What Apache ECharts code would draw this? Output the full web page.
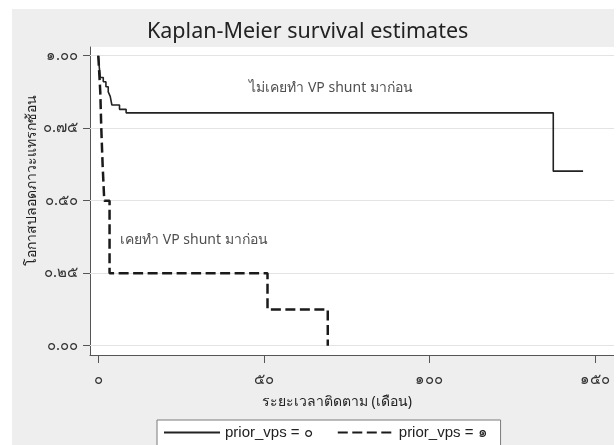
<!DOCTYPE html>
<html>
<head>
<meta charset="utf-8">
<script src="https://cdn.jsdelivr.net/npm/echarts@6/dist/echarts.min.js"></script>
<style>
  html, body { margin: 0; padding: 0; background: #ffffff; }
  #chart { position: absolute; left: 12px; top: 9px; width: 602px; height: 436px; }
</style>
</head>
<body>
<div id="chart"></div>
<script>
// --- chart data ---
const timesNoShunt = [0, 0.3, 0.6, 1.5, 2.3, 3.0, 3.6, 4.1, 6.4, 8.4, 137.4, 146.4];
const survNoShunt  = [1, 0.96, 0.925, 0.91, 0.893, 0.875, 0.86, 0.83, 0.815, 0.803, 0.602, 0.602];

const timesShunt = [0, 0.6, 0.9, 1.3, 1.8, 3.4, 51.1, 69.3];
const survShunt  = [1, 0.875, 0.75, 0.625, 0.5, 0.25, 0.125, 0];

const seriesNames = ['prior_vps = ๐', 'prior_vps = ๑'];

const xTicks = [0, 50, 100, 150];
const xTickLabels = ['๐', '๕๐', '๑๐๐', '๑๕๐'];
const yTicks = [0, 0.25, 0.5, 0.75, 1];
const yTickLabels = ['๐.๐๐', '๐.๒๕', '๐.๕๐', '๐.๗๕', '๑.๐๐'];

const noteNames = ['ไม่เคยทำ VP shunt มาก่อน', 'เคยทำ VP shunt มาก่อน'];
const notePoints = [[70.3, 0.888], [6.6, 0.363]];

const chart = echarts.init(document.getElementById('chart'));

const zip = (xs, ys) => xs.map((x, i) => [x, ys[i]]);
const labelFor = (ticks, labels) => v => {
    const i = ticks.findIndex(t => Math.abs(t - v) < 1e-6);
    return i >= 0 ? labels[i] : '';
};

const thaiFont = '"Noto Sans", "DejaVu Sans", sans-serif';
const axisColor = '#555555';

const option = {
    backgroundColor: '#eeeeee',
    animation: false,
    title: {
        text: 'Kaplan-Meier survival estimates',
        left: 130,
        top: 7,
        padding: 5,
        textStyle: { fontSize: 21.5, fontWeight: 'normal', color: '#222222', fontFamily: thaiFont }
    },
    grid: {
        left: 78, right: 0, top: 38, bottom: 90,
        containLabel: false,
        outerBoundsMode: 'none',
        show: true, backgroundColor: '#ffffff', borderWidth: 0
    },
    xAxis: {
        type: 'value',
        min: -2.507, max: 155.74,
        name: 'ระยะเวลาติดตาม (เดือน)',
        nameLocation: 'middle',
        nameGap: 40,
        nameMoveOverlap: false,
        nameTextStyle: { fontSize: 14, color: '#222222', fontFamily: thaiFont, padding: [0, 30, 0, 0] },
        axisLine: { show: true, onZero: false, lineStyle: { color: axisColor, width: 1 } },
        axisTick: { show: true, length: 8, customValues: xTicks, lineStyle: { color: axisColor } },
        axisLabel: {
            customValues: xTicks, margin: 17, fontSize: 15, color: '#333333',
            fontFamily: thaiFont, formatter: labelFor(xTicks, xTickLabels)
        },
        splitLine: { show: false }
    },
    yAxis: {
        type: 'value',
        min: -0.032, max: 1.030,
        name: 'โอกาสปลอดภาวะแทรกซ้อน',
        nameLocation: 'middle',
        nameGap: 51,
        nameMoveOverlap: false,
        nameTextStyle: { fontSize: 14, color: '#222222', fontFamily: thaiFont, padding: [0, 0, 0, 42] },
        axisLine: { show: true, onZero: false, lineStyle: { color: axisColor, width: 1 } },
        axisTick: { show: true, length: 7, customValues: yTicks, lineStyle: { color: axisColor } },
        axisLabel: {
            customValues: yTicks, margin: 12, fontSize: 15, color: '#333333',
            fontFamily: thaiFont, formatter: labelFor(yTicks, yTickLabels)
        },
        splitLine: { show: false }
    },
    legend: {
        data: seriesNames,
        left: 145,
        top: 411,
        orient: 'horizontal',
        backgroundColor: '#ffffff',
        borderColor: '#7a7a7a',
        borderWidth: 1,
        padding: [5, 13, 30, 6],
        itemWidth: 56,
        itemHeight: 16,
        itemGap: 24,
        itemTextGap: 8,
        itemStyle: { opacity: 0 },
        textStyle: { fontSize: 15, color: '#222222', fontFamily: '"Liberation Sans", "Noto Sans", sans-serif' }
    },
    series: [
        {
            name: seriesNames[0],
            type: 'line',
            step: 'end',
            symbol: 'none',
            z: 3,
            data: zip(timesNoShunt, survNoShunt),
            lineStyle: { color: '#222222', width: 1.6 },
            itemStyle: { color: '#222222' }
        },
        {
            name: seriesNames[1],
            type: 'line',
            step: 'end',
            symbol: 'none',
            z: 3,
            data: zip(timesShunt, survShunt),
            lineStyle: { color: '#1a1a1a', width: 2.5, type: [10, 4.5] },
            itemStyle: { color: '#1a1a1a' }
        },
        {
            // horizontal grid lines at the y ticks
            name: 'grid',
            type: 'line',
            data: [],
            z: 1,
            markLine: {
                silent: true,
                z: 1,
                symbol: ['none', 'none'],
                label: { show: false },
                lineStyle: { color: '#e3e3e3', width: 1, type: 'solid' },
                data: yTicks.map(v => ({ yAxis: v }))
            }
        },
        {
            // text notes inside the plot
            name: 'notes',
            type: 'scatter',
            symbolSize: 0,
            z: 4,
            data: [
                { name: noteNames[0], value: notePoints[0], label: { position: 'inside', align: 'center' } },
                { name: noteNames[1], value: notePoints[1], label: { position: 'right', distance: 0, align: 'left' } }
            ],
            label: {
                show: true,
                formatter: '{b}',
                fontSize: 14,
                color: '#222222',
                fontFamily: thaiFont
            }
        }
    ]
};

chart.setOption(option);
</script>
</body>
</html>
